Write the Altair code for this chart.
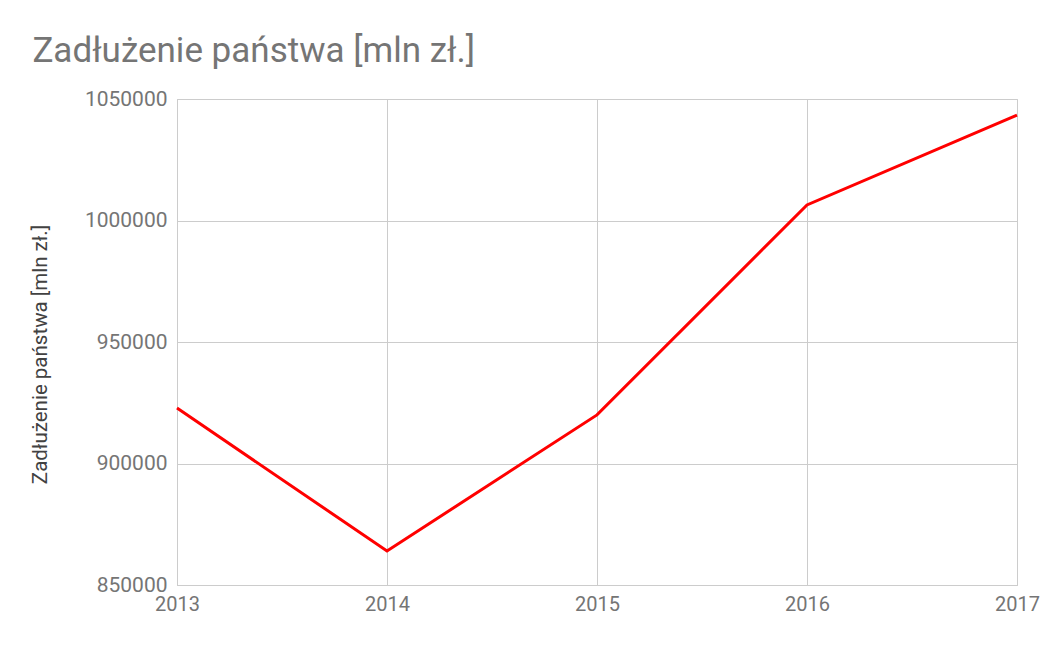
import altair as alt
import pandas as pd

years = [2013, 2014, 2015, 2016, 2017]
debt = [922800, 864000, 920000, 1006400, 1043400]

df = pd.DataFrame({"Rok": years, "Zadłużenie": debt})

gray = "#757575"
grid = "#cccccc"

chart = alt.Chart(df).mark_line(color="#ff0000", strokeWidth=3).encode(
    x=alt.X("Rok:Q",
            scale=alt.Scale(domain=[2013, 2017], nice=False, zero=False),
            axis=alt.Axis(values=years, format="d", title=None, ticks=False,
                          labelPadding=9, labelFontSize=20, labelColor=gray,
                          labelFont="Roboto", gridColor=grid, domainColor=grid,
                          labelFlush=False)),
    y=alt.Y("Zadłużenie:Q",
            scale=alt.Scale(domain=[850000, 1050000], nice=False, zero=False),
            axis=alt.Axis(values=[850000, 900000, 950000, 1000000, 1050000],
                          format="d", title="Zadłużenie państwa [mln zł.]",
                          ticks=False, labelPadding=10, labelFontSize=21,
                          labelColor=gray, labelFont="Roboto",
                          titleFont="Roboto", titleFontSize=20.5,
                          titleFontWeight="normal", titleColor="#424242",
                          titlePadding=34, titleY=255,
                          gridColor=grid, domainColor=grid)),
).properties(
    width=840,
    height=486,
    title=alt.TitleParams("Zadłużenie państwa [mln zł.]", font="Roboto",
                          fontSize=35, fontWeight="normal", color=gray,
                          anchor="start", frame="bounds", offset=19, dx=2),
    autosize=alt.AutoSizeParams(type="none"),
    padding={"left": 169, "top": 91, "right": 25, "bottom": 50},
).configure_view(stroke=grid)

chart.save("out.html", embed_options={"renderer": "svg", "actions": False})
